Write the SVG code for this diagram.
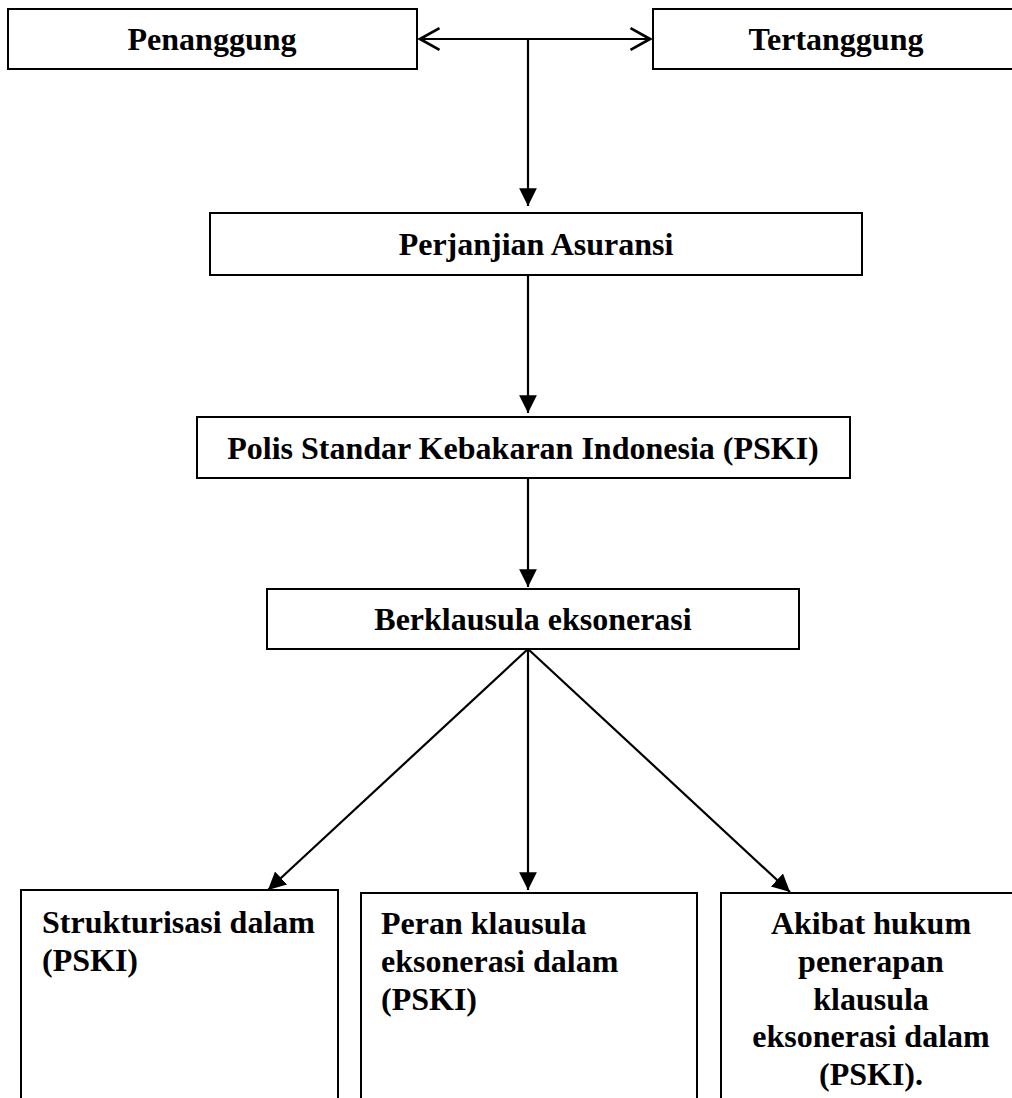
<svg xmlns="http://www.w3.org/2000/svg" width="1012" height="1098" viewBox="0 0 1012 1098">
<style>
.box{fill:#fff;stroke:#000;stroke-width:2}
.t{font-family:"Liberation Serif","Times New Roman",serif;font-weight:bold;font-size:32px;fill:#000}
.c{text-anchor:middle}
.ln{stroke:#000;stroke-width:2.2;fill:none}
</style>
<defs>
<marker id="fa" markerUnits="userSpaceOnUse" markerWidth="20" markerHeight="20" viewBox="-16 -9 18 18" refX="0" refY="0" orient="auto">
<path d="M0,0 L-16,-8 L-16,8 Z" fill="#000"/>
</marker>
<marker id="oa" markerUnits="userSpaceOnUse" markerWidth="24" markerHeight="26" viewBox="-20 -12 22 24" refX="0" refY="0" orient="auto-start-reverse">
<path d="M-18,-10 L0,0 L-18,10" fill="none" stroke="#000" stroke-width="2.5"/>
</marker>
</defs>
<rect width="1012" height="1098" fill="#fff"/>
<g id="connectors">
<line class="ln" x1="420" y1="39" x2="650" y2="39" marker-start="url(#oa)" marker-end="url(#oa)"/>
<line class="ln" x1="528" y1="39" x2="528" y2="206" marker-end="url(#fa)"/>
<line class="ln" x1="528" y1="275" x2="528" y2="413" marker-end="url(#fa)"/>
<line class="ln" x1="528" y1="478" x2="528" y2="587" marker-end="url(#fa)"/>
<line class="ln" x1="528" y1="649" x2="268" y2="890" marker-end="url(#fa)"/>
<line class="ln" x1="528" y1="649" x2="528" y2="890" marker-end="url(#fa)"/>
<line class="ln" x1="528" y1="649" x2="790" y2="892" marker-end="url(#fa)"/>
</g>
<g id="penanggung">
<rect class="box" x="8" y="9" width="409" height="60"/>
<text class="t c" x="212" y="50">Penanggung</text>
</g>
<g id="tertanggung">
<rect class="box" x="653" y="9" width="370" height="60"/>
<text class="t c" x="836" y="50">Tertanggung</text>
</g>
<g id="perjanjian">
<rect class="box" x="210" y="213" width="652" height="62"/>
<text class="t c" x="536" y="255">Perjanjian Asuransi</text>
</g>
<g id="pski">
<rect class="box" x="197" y="417" width="653" height="61"/>
<text class="t c" x="523" y="459">Polis Standar Kebakaran Indonesia (PSKI)</text>
</g>
<g id="berklausula">
<rect class="box" x="267" y="589" width="532" height="60"/>
<text class="t c" x="533" y="630">Berklausula eksonerasi</text>
</g>
<g id="strukturisasi">
<rect class="box" x="21" y="890" width="317" height="220"/>
<text class="t" x="42" y="933">Strukturisasi dalam</text>
<text class="t" x="42" y="971">(PSKI)</text>
</g>
<g id="peran">
<rect class="box" x="361" y="893" width="336" height="220"/>
<text class="t" x="381" y="934">Peran klausula</text>
<text class="t" x="381" y="972">eksonerasi dalam</text>
<text class="t" x="381" y="1010">(PSKI)</text>
</g>
<g id="akibat">
<rect class="box" x="721" y="893" width="302" height="220"/>
<text class="t c" x="871" y="934">Akibat hukum</text>
<text class="t c" x="871" y="972">penerapan</text>
<text class="t c" x="871" y="1010">klausula</text>
<text class="t c" x="871" y="1047">eksonerasi dalam</text>
<text class="t c" x="871" y="1085">(PSKI).</text>
</g>
</svg>
